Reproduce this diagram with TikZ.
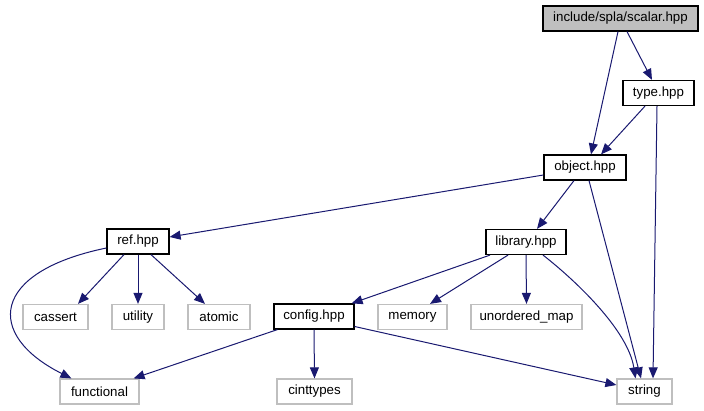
\documentclass[tikz,border=0pt]{standalone}
\usepackage{fontspec}
\setmainfont{Liberation Sans}
\usetikzlibrary{arrows.meta}
\definecolor{edgeblue}{HTML}{191970}
\definecolor{sysgray}{HTML}{BFBFBF}
\begin{document}
\begin{tikzpicture}[x=1pt,y=-1pt,
  every node/.style={font=\fontsize{13.3}{16}\selectfont, inner sep=0pt, minimum height=25pt, anchor=center},
  hdr/.style={draw=black, line width=1.2pt},
  sys/.style={draw=sysgray, line width=1.2pt},
  dep/.style={draw=edgeblue, line width=1pt, -{Triangle[length=11pt,width=9pt]}, edgeblue}
]
\useasboundingbox (0,0) rectangle (704,411);
% nodes
\node[hdr, fill=sysgray, minimum width=155pt] (scalar) at (620.5,18.5) {include/spla/scalar.hpp};
\node[hdr, minimum width=71pt] (type) at (658.5,93) {type.hpp};
\node[hdr, minimum width=82pt] (object) at (585,167.5) {object.hpp};
\node[hdr, minimum width=62pt] (ref) at (138,241.5) {ref.hpp};
\node[hdr, minimum width=80pt] (library) at (526,242) {library.hpp};
\node[sys, minimum width=65pt] (cassert) at (55.5,317) {cassert};
\node[sys, minimum width=52pt] (utility) at (138,317) {utility};
\node[sys, minimum width=62pt] (atomic) at (219,317) {atomic};
\node[hdr, minimum width=80pt] (config) at (314,316.5) {config.hpp};
\node[sys, minimum width=69pt] (memory) at (412.5,317) {memory};
\node[sys, minimum width=111pt] (umap) at (526.5,317) {unordered\_map};
\node[sys, minimum width=79pt] (functional) at (99.5,391.5) {functional};
\node[sys, minimum width=75pt] (cinttypes) at (314.5,391.5) {cinttypes};
\node[sys, minimum width=55pt] (string) at (644.5,391.5) {string};
% edges
\draw[dep] ([xshift=-2.5pt]scalar.south) -- ([xshift=6pt]object.north);
\draw[dep] ([xshift=6.5pt]scalar.south) -- ([xshift=-6.5pt]type.north);
\draw[dep] ([xshift=-13.5pt]type.south) -- ([xshift=16pt]object.north);
\draw[dep] ([xshift=-1.5pt]type.south) -- ([xshift=8.5pt]string.north);
\draw[dep] ([yshift=-7.5pt]object.west) -- ([yshift=4.5pt]ref.east);
\draw[dep] ([xshift=-11pt]object.south) -- ([xshift=11pt]library.north);
\draw[dep] ([xshift=4pt]object.south) -- ([xshift=-3.5pt]string.north);
\draw[dep] ([yshift=-6.5pt]ref.west) .. controls (-10,272) and (-15,335) .. ([xshift=12pt]functional.north west);
\draw[dep] ([xshift=-14pt]ref.south) -- ([xshift=22.5pt]cassert.north);
\draw[dep] (ref.south) -- (utility.north);
\draw[dep] ([xshift=13pt]ref.south) -- ([xshift=-14pt]atomic.north);
\draw[dep] ([xshift=-36pt]library.south) -- ([xshift=-3pt]config.north east);
\draw[dep] ([xshift=-18pt]library.south) -- ([xshift=17.5pt]memory.north);
\draw[dep] (library.south) -- (umap.north);
\draw[dep] ([xshift=17pt]library.south) .. controls (575,280) and (628,330) .. ([xshift=-9pt]string.north);
\draw[dep] ([xshift=4pt]config.south west) -- ([xshift=-6pt]functional.north east);
\draw[dep] (config.south) -- (cinttypes.north);
\draw[dep] ([yshift=-10pt]config.east) -- ([yshift=6.5pt]string.west);
\end{tikzpicture}
\end{document}
